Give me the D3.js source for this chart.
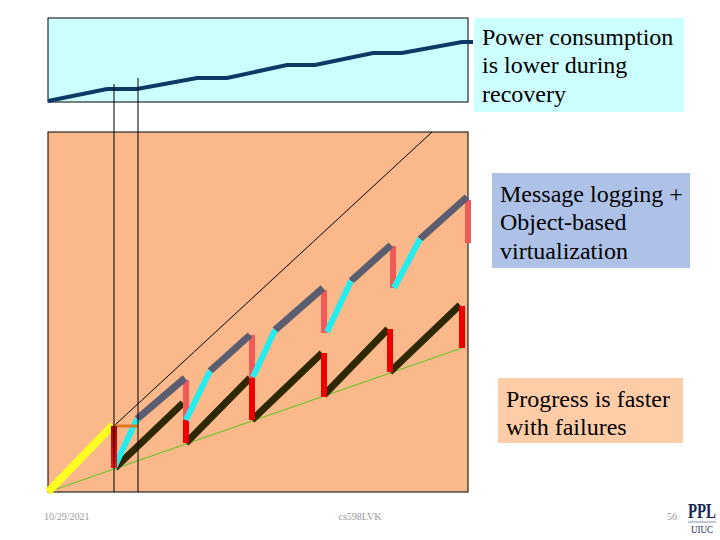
<!DOCTYPE html>
<html><head><meta charset="utf-8">
<script src="https://cdn.jsdelivr.net/npm/d3@7"></script>
<style>body{margin:0;background:#fff}svg{display:block}</style>
</head><body><svg id="c" width="720" height="540"></svg>
<script>
// ---- data (time t, progress p) ----
const powerT = [0, 59, 89, 149, 179, 239, 267, 325, 354, 414, 425];
const powerV = [1, 13, 13, 24, 24, 37, 37, 49, 49, 60, 60];

const normalRun = [[0, 0], [65, 67]];               // yellow: progress before first failure
const firstFailure = {t: 66, from: 66, to: 24};      // dark red drop
const stallLine = [[65, 66], [90, 66]];             // orange: time spent recovering
const idealLine = [[67, 67], [384, 360]];           // thin black: no-failure progress
const baseLine = [[0, 0], [414, 144]];              // green

// message logging: recovery (cyan) then normal (gray), then drop (salmon)
const recoverySegs = [[[66,24],[89,73]], [[138,72],[162,121]], [[205,115],[227,162]], [[279,160],[303,211]], [[346,204],[372,253]]];
const mlSegs = [[[89,73],[137,114]], [[162,121],[202,157]], [[227,162],[275,204]], [[303,211],[343,247]], [[372,253],[419,295]]];
const mlDrops = [[138,112,72], [204,157,114], [276,202,159], [345,246,204], [420,292,249]];

// checkpoint-restart progress (black) and its drops (red)
const crSegs = [[[67,24],[135,89]], [[138,49],[202,114]], [[204,72],[274,139]], [[276,97],[340,163]], [[342,120],[412,187]]];
const crDrops = [[138,89,49], [204,114,72], [276,139,95], [342,163,120], [414,186,144]];

const markers = [{t: 66, top: 18}, {t: 90, top: 24}];

const notes = [
  {lines: ["Power consumption", "is lower during", "recovery"], fill: "#ccffff", x: 474, y: 18, w: 210, h: 94, base: 27},
  {lines: ["Message logging +", "Object-based", "virtualization"], fill: "#aec2e8", x: 492, y: 173, w: 198, h: 95, base: 29},
  {lines: ["Progress is faster", "with failures"], fill: "#ffcca8", x: 498, y: 378, w: 185, h: 65, base: 28.5}
];
const footer = {date: "10/29/2021", course: "cs598LVK", page: "56"};

// ---- drawing ----
const SERIF = "'Liberation Serif', 'Times New Roman', Times, 'DejaVu Serif', serif";
const svg = d3.select("#c");
const x = d3.scaleLinear().domain([0, 420]).range([48, 468]);
const y = d3.scaleLinear().domain([0, 360]).range([492, 132]);
const yp = d3.scaleLinear().domain([0, 84]).range([102, 18]);
const line = d3.line().x(d => x(d[0])).y(d => y(d[1]));

// panels
svg.append("rect").attr("x", x(0)).attr("y", yp(84)).attr("width", x(420)-x(0)).attr("height", yp(0)-yp(84))
  .attr("fill", "#ccffff").attr("stroke", "#000").attr("stroke-width", 1);
svg.append("rect").attr("x", x(0)).attr("y", y(360)).attr("width", x(420)-x(0)).attr("height", y(0)-y(360))
  .attr("fill", "#fab88b").attr("stroke", "#000").attr("stroke-width", 1);

// power line
const pLine = d3.line().x(d => x(d)).y((d, i) => yp(powerV[i]));
svg.append("path").attr("d", pLine(powerT)).attr("fill", "none").attr("stroke", "#0c3a64").attr("stroke-width", 4);

// base & ideal
svg.append("path").attr("d", line(baseLine)).attr("stroke", "#6cc32a").attr("stroke-width", 1.2).attr("fill", "none");
svg.append("path").attr("d", line(idealLine)).attr("stroke", "#000").attr("stroke-width", 1).attr("fill", "none");

// checkpoint/restart
svg.selectAll(".cr").data(crSegs).join("path").attr("d", line)
  .attr("stroke", "#2e2800").attr("stroke-width", 7).attr("fill", "none");
svg.selectAll(".crd").data(crDrops).join("line")
  .attr("x1", d => x(d[0])).attr("x2", d => x(d[0])).attr("y1", d => y(d[1])).attr("y2", d => y(d[2]))
  .attr("stroke", "#ee0000").attr("stroke-width", 6);

// message logging
svg.selectAll(".mld").data(mlDrops).join("line")
  .attr("x1", d => x(d[0])).attr("x2", d => x(d[0])).attr("y1", d => y(d[1])).attr("y2", d => y(d[2]))
  .attr("stroke", "#f25a5a").attr("stroke-width", 6);
svg.selectAll(".ml").data(mlSegs).join("path").attr("d", line)
  .attr("stroke", "#5a5e70").attr("stroke-width", 7).attr("fill", "none");
svg.selectAll(".rc").data(recoverySegs).join("path").attr("d", line)
  .attr("stroke", "#22eef0").attr("stroke-width", 6).attr("fill", "none");

// first failure
svg.append("path").attr("d", line(normalRun)).attr("stroke", "#ffff22").attr("stroke-width", 8).attr("fill", "none");
svg.append("path").attr("d", line(stallLine)).attr("stroke", "#e07820").attr("stroke-width", 3).attr("fill", "none");
const grad = svg.append("defs").append("linearGradient").attr("id", "dr").attr("x1", 0).attr("x2", 0).attr("y1", 0).attr("y2", 1);
grad.append("stop").attr("offset", "0%").attr("stop-color", "#b00000");
grad.append("stop").attr("offset", "100%").attr("stop-color", "#ff1010");
svg.append("rect").attr("x", x(firstFailure.t) - 3).attr("y", y(firstFailure.from))
  .attr("width", 6).attr("height", y(firstFailure.to) - y(firstFailure.from)).attr("fill", "url(#dr)");

// markers
svg.selectAll(".mk").data(markers).join("line")
  .attr("x1", d => x(d.t)).attr("x2", d => x(d.t)).attr("y1", d => yp(d.top)).attr("y2", y(0))
  .attr("stroke", "#000").attr("stroke-width", 1);

// notes
notes.forEach(n => {
  const g = svg.append("g");
  g.append("rect").attr("x", n.x).attr("y", n.y).attr("width", n.w).attr("height", n.h).attr("fill", n.fill);
  g.selectAll("text").data(n.lines).join("text")
    .attr("x", n.x + 8).attr("y", (d, i) => n.y + n.base + i * 28.3)
    .attr("font-family", SERIF).attr("font-size", 24).attr("fill", "#000")
    .text(d => d);
});

// footer
const ft = (t, xx, anchor) => svg.append("text").attr("x", xx).attr("y", 520).attr("text-anchor", anchor)
  .attr("font-family", SERIF).attr("font-size", 10).attr("fill", "#9a9a9a").text(t);
ft(footer.date, 44, "start");
ft(footer.course, 360, "middle");
ft(footer.page, 677, "end");
// PPL logo
svg.append("text").attr("x", 702).attr("y", 518).attr("text-anchor", "middle").attr("font-weight", "bold")
  .attr("font-family", SERIF).attr("font-size", 16).attr("fill", "#1a2850")
  .attr("textLength", 28).attr("lengthAdjust", "spacingAndGlyphs").attr("transform", "translate(702,518) scale(1,1.25) translate(-702,-518)").text("PPL");
svg.append("line").attr("x1", 688).attr("x2", 716).attr("y1", 522).attr("y2", 522).attr("stroke", "#8090b0").attr("stroke-width", 1);
svg.append("text").attr("x", 702).attr("y", 533).attr("text-anchor", "middle")
  .attr("font-family", SERIF).attr("font-size", 10).attr("fill", "#1a2850").attr("textLength", 22).attr("lengthAdjust", "spacingAndGlyphs").text("UIUC");
</script></body></html>
